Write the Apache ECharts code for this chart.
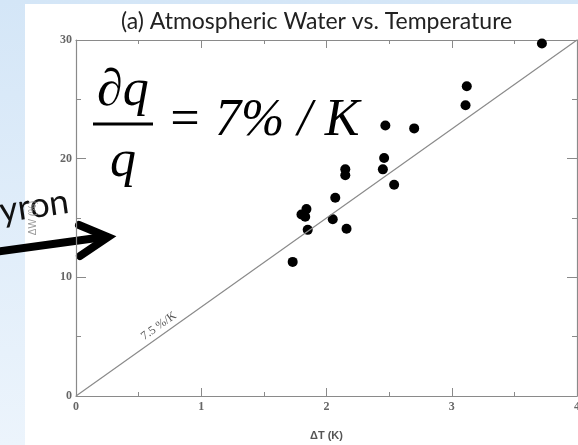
<!DOCTYPE html>
<html>
<head>
<meta charset="utf-8">
<script src="https://cdn.jsdelivr.net/npm/echarts@6/dist/echarts.min.js"></script>
<style>
  html, body { margin: 0; padding: 0; }
  body {
    width: 578px; height: 445px; overflow: hidden; position: relative;
    background: linear-gradient(to bottom, #d4e6f7, #ecf4fc);
  }
  #panel { position: absolute; left: 25px; top: 4px; right: 0; bottom: 0; background: #fff; }
  #main { position: absolute; left: 0; top: 0; width: 578px; height: 445px; }
</style>
</head>
<body>
<div id="panel"></div>
<div id="main"></div>
<script>
  // warming dT (K) vs. change in atmospheric water dW (%)
  var dT = [3.72, 3.12, 3.11, 2.47, 2.70, 2.46, 2.45, 2.15, 2.15, 2.54, 2.07, 1.84, 1.80, 1.83, 2.05, 1.85, 2.16, 1.73];
  var dW = [29.7, 26.1, 24.5, 22.8, 22.55, 20.05, 19.1, 19.1, 18.6, 17.8, 16.7, 15.75, 15.3, 15.1, 14.9, 14.0, 14.1, 11.3];

  // 7.5 %/K reference line
  var refT = [0, 4];
  var refW = [0, 30];

  var xTicks = [0, 1, 2, 3, 4];
  var yTicks = [0, 10, 20, 30];

  var chartDom = document.getElementById('main');
  var myChart = echarts.init(chartDom, null, { renderer: 'canvas' });

  var points = dT.map(function (t, i) { return [t, dW[i]]; });

  var tickFont = { color: '#666', fontFamily: 'Liberation Serif', fontWeight: 'bold', fontSize: 12 };
  var lineCol = '#8a8a8a';

  function xAx(pos, labels) {
    return {
      type: 'value', position: pos, min: xTicks[0], max: xTicks[xTicks.length - 1], interval: 1,
      axisLine: { show: true, onZero: false, lineStyle: { color: lineCol, width: 1.2 } },
      axisTick: { show: true, inside: true, length: 8, lineStyle: { color: lineCol } },
      minorTick: { show: true, splitNumber: 2, length: 4, lineStyle: { color: lineCol } },
      splitLine: { show: false },
      axisLabel: Object.assign({ show: labels, margin: 5 }, tickFont)
    };
  }
  function yAx(pos, labels) {
    return {
      type: 'value', position: pos, min: yTicks[0], max: yTicks[yTicks.length - 1], interval: 10,
      axisLine: { show: true, onZero: false, lineStyle: { color: lineCol, width: 1.2 } },
      axisTick: { show: true, inside: true, length: 10, lineStyle: { color: lineCol } },
      minorTick: { show: true, splitNumber: 2, length: 5, lineStyle: { color: lineCol } },
      splitLine: { show: false },
      axisLabel: Object.assign({ show: labels, margin: 4 }, tickFont)
    };
  }

  var xb = xAx('bottom', true);
  xb.name = 'ΔT (K)';
  xb.nameLocation = 'middle';
  xb.nameGap = 34;
  xb.nameTextStyle = { color: '#555', fontFamily: 'Liberation Sans', fontWeight: 'bold', fontSize: 11 };

  var yl = yAx('left', true);
  yl.name = 'ΔW (%)';
  yl.nameLocation = 'middle';
  yl.nameGap = 38;
  yl.nameTextStyle = { color: '#999', fontFamily: 'Liberation Sans', fontSize: 10 };

  var eqFont = 'italic 52px "Liberation Serif"';

  var option = {
    animation: false,
    title: {
      text: '(a) Atmospheric Water vs. Temperature',
      left: 116, top: 5,
      textStyle: { color: '#222', fontFamily: 'Lato', fontWeight: 'normal', fontSize: 23 }
    },
    grid: { left: 76, right: 1, top: 40, bottom: 49, outerBoundsMode: 'none' },
    xAxis: [xb, xAx('top', false)],
    yAxis: [yl, yAx('right', false)],
    graphic: [
      // equation
      { type: 'text', left: 97, top: 65, style: { text: '∂q', font: eqFont, fill: '#000' } },
      { type: 'line', shape: { x1: 93, y1: 124, x2: 153, y2: 124 }, style: { stroke: '#000', lineWidth: 2.8 } },
      { type: 'text', left: 110, top: 136, style: { text: 'q', font: eqFont, fill: '#000' } },
      { type: 'text', left: 167, top: 95, style: { text: '= 7% / K', font: eqFont, fill: '#000' } },
      // slide annotation
      { type: 'text', x: 71, y: 219, rotation: 0.14,
        style: { text: 'Clausius-Clapeyron', font: '35px Lato', fill: '#111', textAlign: 'right', textVerticalAlign: 'bottom' } },
      { type: 'polyline', shape: { points: [[-6, 252], [104, 237]] },
        style: { stroke: '#000', lineWidth: 8, lineCap: 'round', fill: null } },
      { type: 'polyline', shape: { points: [[79, 225], [108, 237], [80, 256]] },
        style: { stroke: '#000', lineWidth: 8, lineCap: 'round', lineJoin: 'miter', fill: null } }
    ],
    series: [
      {
        type: 'scatter',
        data: points,
        symbol: 'circle',
        symbolSize: 10,
        itemStyle: { color: '#000', opacity: 1 },
        markLine: {
          silent: true,
          symbol: 'none',
          lineStyle: { color: '#8a8a8a', width: 1.2, type: 'solid' },
          label: {
            show: true, formatter: '7.5 %/K', position: 'insideStartTop', distance: [88, 3],
            color: '#555', fontFamily: 'Liberation Serif', fontSize: 12
          },
          data: [[{ coord: [refT[0], refW[0]] }, { coord: [refT[1], refW[1]] }]]
        }
      }
    ]
  };

  myChart.setOption(option);
</script>
</body>
</html>
